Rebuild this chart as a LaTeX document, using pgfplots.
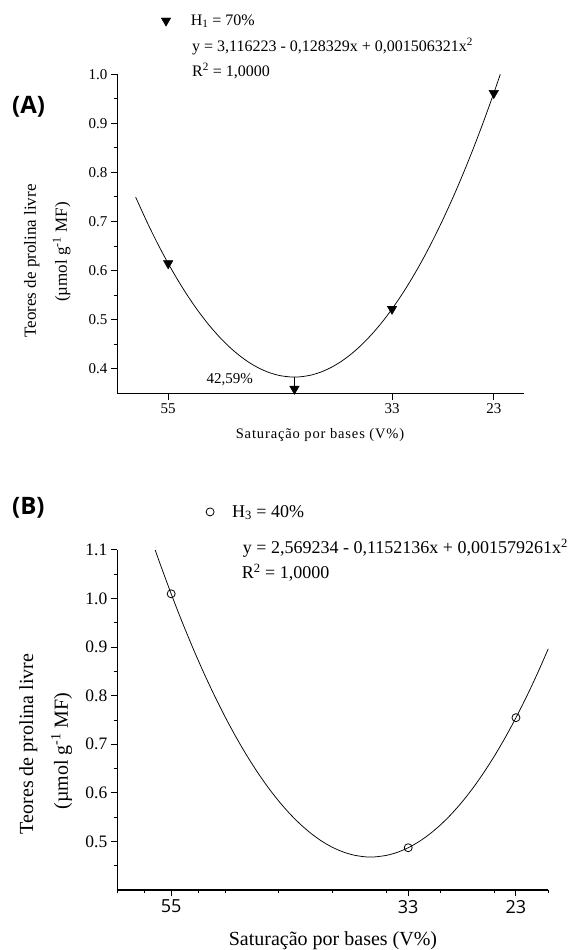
\documentclass[border=0pt]{standalone}
\usepackage{pgfplots}
\pgfplotsset{compat=1.18}
\usepackage{fontspec}
\setmainfont{Liberation Serif}
\newfontfamily\osans{Open Sans}
\newcommand\fs[1]{\fontsize{#1bp}{1.2\dimexpr#1bp\relax}\selectfont}

\pgfplotsset{
  panel/.style={
    scale only axis,
    xmin=20, xmax=60, x dir=reverse,
    axis x line*=bottom, axis y line*=left,
    axis line style={black, line width=1.1pt},
    tick align=outside,
    major tick length=6.5bp, minor tick length=3.5bp,
    every tick/.style={black, line width=1pt},
    xtick={55,33,23},
    yticklabel style={/pgf/number format/fixed, /pgf/number format/fixed zerofill,
      /pgf/number format/precision=1},
    /pgf/number format/assume math mode=true,
    legend cell align=left,
    legend style={draw=none, fill=none, inner sep=0pt, outer sep=0pt,
      nodes={inner sep=0pt}, anchor=west},
    legend image code/.code={\draw[##1] plot coordinates {(0bp,0bp)};},
  },
}

\begin{document}
\begin{tikzpicture}
\useasboundingbox (0,0) rectangle (575bp,950bp);

% ---------- (A) ----------
\begin{axis}[panel,
    at={(117.3bp,556.7bp)}, anchor=south west,
    width=407bp, height=319bp,
    ymin=0.35, ymax=1.0,
    ytick={0.4,0.5,0.6,0.7,0.8,0.9,1.0},
    minor ytick={0.45,0.55,0.65,0.75,0.85,0.95},
    tick label style={font=\fs{15}},
    legend style={at={(0.108,1.168)}, font=\fs{16}, column sep=20bp},
  ]
\addplot[only marks, mark=triangle*, mark size=5.5bp,
    mark options={rotate=180, fill=black, draw=black}]
  coordinates {(55,0.6147) (42.59,0.359) (33,0.5218) (23,0.9615)};
\addlegendentry{H\textsubscript{1} = 70\%}
\addplot[forget plot, black, line width=0.75pt, smooth] coordinates {
  (58.2,0.7498) (57,0.6955) (56,0.6536) (55,0.6147) (54,0.5789) (53,0.5460)
  (52,0.5162) (51,0.4894) (50,0.4656) (49,0.4448) (48,0.4270) (47,0.4122)
  (46,0.4005) (45,0.3917) (44,0.3860) (43,0.3833) (42.59,0.3830) (42,0.3836)
  (41,0.3869) (40,0.3932) (39,0.4025) (38,0.4148) (37,0.4302) (36,0.4486)
  (35,0.4700) (34,0.4943) (33,0.5218) (32,0.5522) (31,0.5856) (30,0.6220)
  (29,0.6615) (28,0.7040) (27,0.7494) (26,0.7979) (25,0.8494) (24,0.9040)
  (23,0.9615) (22.36,1.0000)};
\addplot[forget plot, black, line width=0.75pt] coordinates {(42.59,0.3830) (42.59,0.365)};
\end{axis}

% ---------- (B) ----------
\begin{axis}[panel,
    at={(117.3bp,60bp)}, anchor=south west,
    width=431bp, height=340bp,
    ymin=0.4, ymax=1.1,
    ytick={0.5,0.6,0.7,0.8,0.9,1.0,1.1},
    minor ytick={0.45,0.55,0.65,0.75,0.85,0.95,1.05},
    minor xtick={20,25,30,35,40,45,50,52.5,57.5,60},
    yticklabel style={font=\fs{17.5}},
    xticklabel style={font=\osans\fs{18}},
    legend style={at={(0.206,1.112)}, font=\fs{18}, column sep=18bp},
  ]
\addplot[only marks, mark=o, mark size=4bp, mark options={draw=black, line width=0.8pt}]
  coordinates {(55,1.0098) (33,0.4870) (23,0.7548)};
\addlegendentry{H\textsubscript{3} = 40\%}
\addplot[forget plot, black, line width=0.75pt, smooth] coordinates {
  (56.48,1.0998) (56,1.0698) (55,1.0098) (54,0.9528) (53,0.8991) (52,0.8484)
  (51,0.8010) (50,0.7567) (49,0.7156) (48,0.6776) (47,0.6428) (46,0.6111)
  (45,0.5826) (44,0.5573) (43,0.5351) (42,0.5161) (41,0.5002) (40,0.4875)
  (39,0.4780) (38,0.4716) (37,0.4683) (36.48,0.4679) (36,0.4683) (35,0.4714)
  (34,0.4776) (33,0.4870) (32,0.4996) (31,0.5153) (30,0.5342) (29,0.5562)
  (28,0.5814) (27,0.6097) (26,0.6413) (25,0.6759) (24,0.7138) (23,0.7548)
  (22,0.7989) (21,0.8462) (20,0.8967)};
\end{axis}

% ---------- texts ----------
\node[anchor=west, inner sep=0pt, font=\osans\bfseries\fs{24}] at (12bp,843bp) {(A)};
\node[anchor=west, inner sep=0pt, font=\osans\bfseries\fs{24}] at (12bp,442bp) {(B)};

\node[anchor=west, inner sep=0pt, font=\fs{16}] at (192bp,903.3bp)
  {y = 3,116223 - 0,128329x + 0,001506321x\textsuperscript{2}};
\node[anchor=west, inner sep=0pt, font=\fs{16}] at (192bp,879.3bp)
  {R\textsuperscript{2} = 1,0000};
\node[anchor=east, inner sep=0pt, font=\fs{15}] at (253bp,570bp) {42,59\%};

\node[anchor=west, inner sep=0pt, font=\fs{18}] at (242.7bp,401.7bp)
  {y = 2,569234 - 0,1152136x + 0,001579261x\textsuperscript{2}};
\node[anchor=west, inner sep=0pt, font=\fs{18}] at (241.7bp,377.3bp)
  {R\textsuperscript{2} = 1,0000};

\node[font=\fs{14.5}\addfontfeature{LetterSpace=6}] at (320bp,515bp)
  {Saturação por bases (V\%)};
\node[font=\fs{20}] at (333bp,9bp) {Saturação por bases (V\%)};

\node[rotate=90, font=\fs{17}] at (31.7bp,689bp) {Teores de prolina livre};
\node[rotate=90, font=\fs{17}] at (61.7bp,698bp) {(µmol g\textsuperscript{-1} MF)};
\node[rotate=90, font=\fs{20}] at (28.3bp,206bp) {Teores de prolina livre};
\node[rotate=90, font=\fs{20}] at (61.7bp,199bp) {(µmol g\textsuperscript{-1} MF)};
\end{tikzpicture}
\end{document}
